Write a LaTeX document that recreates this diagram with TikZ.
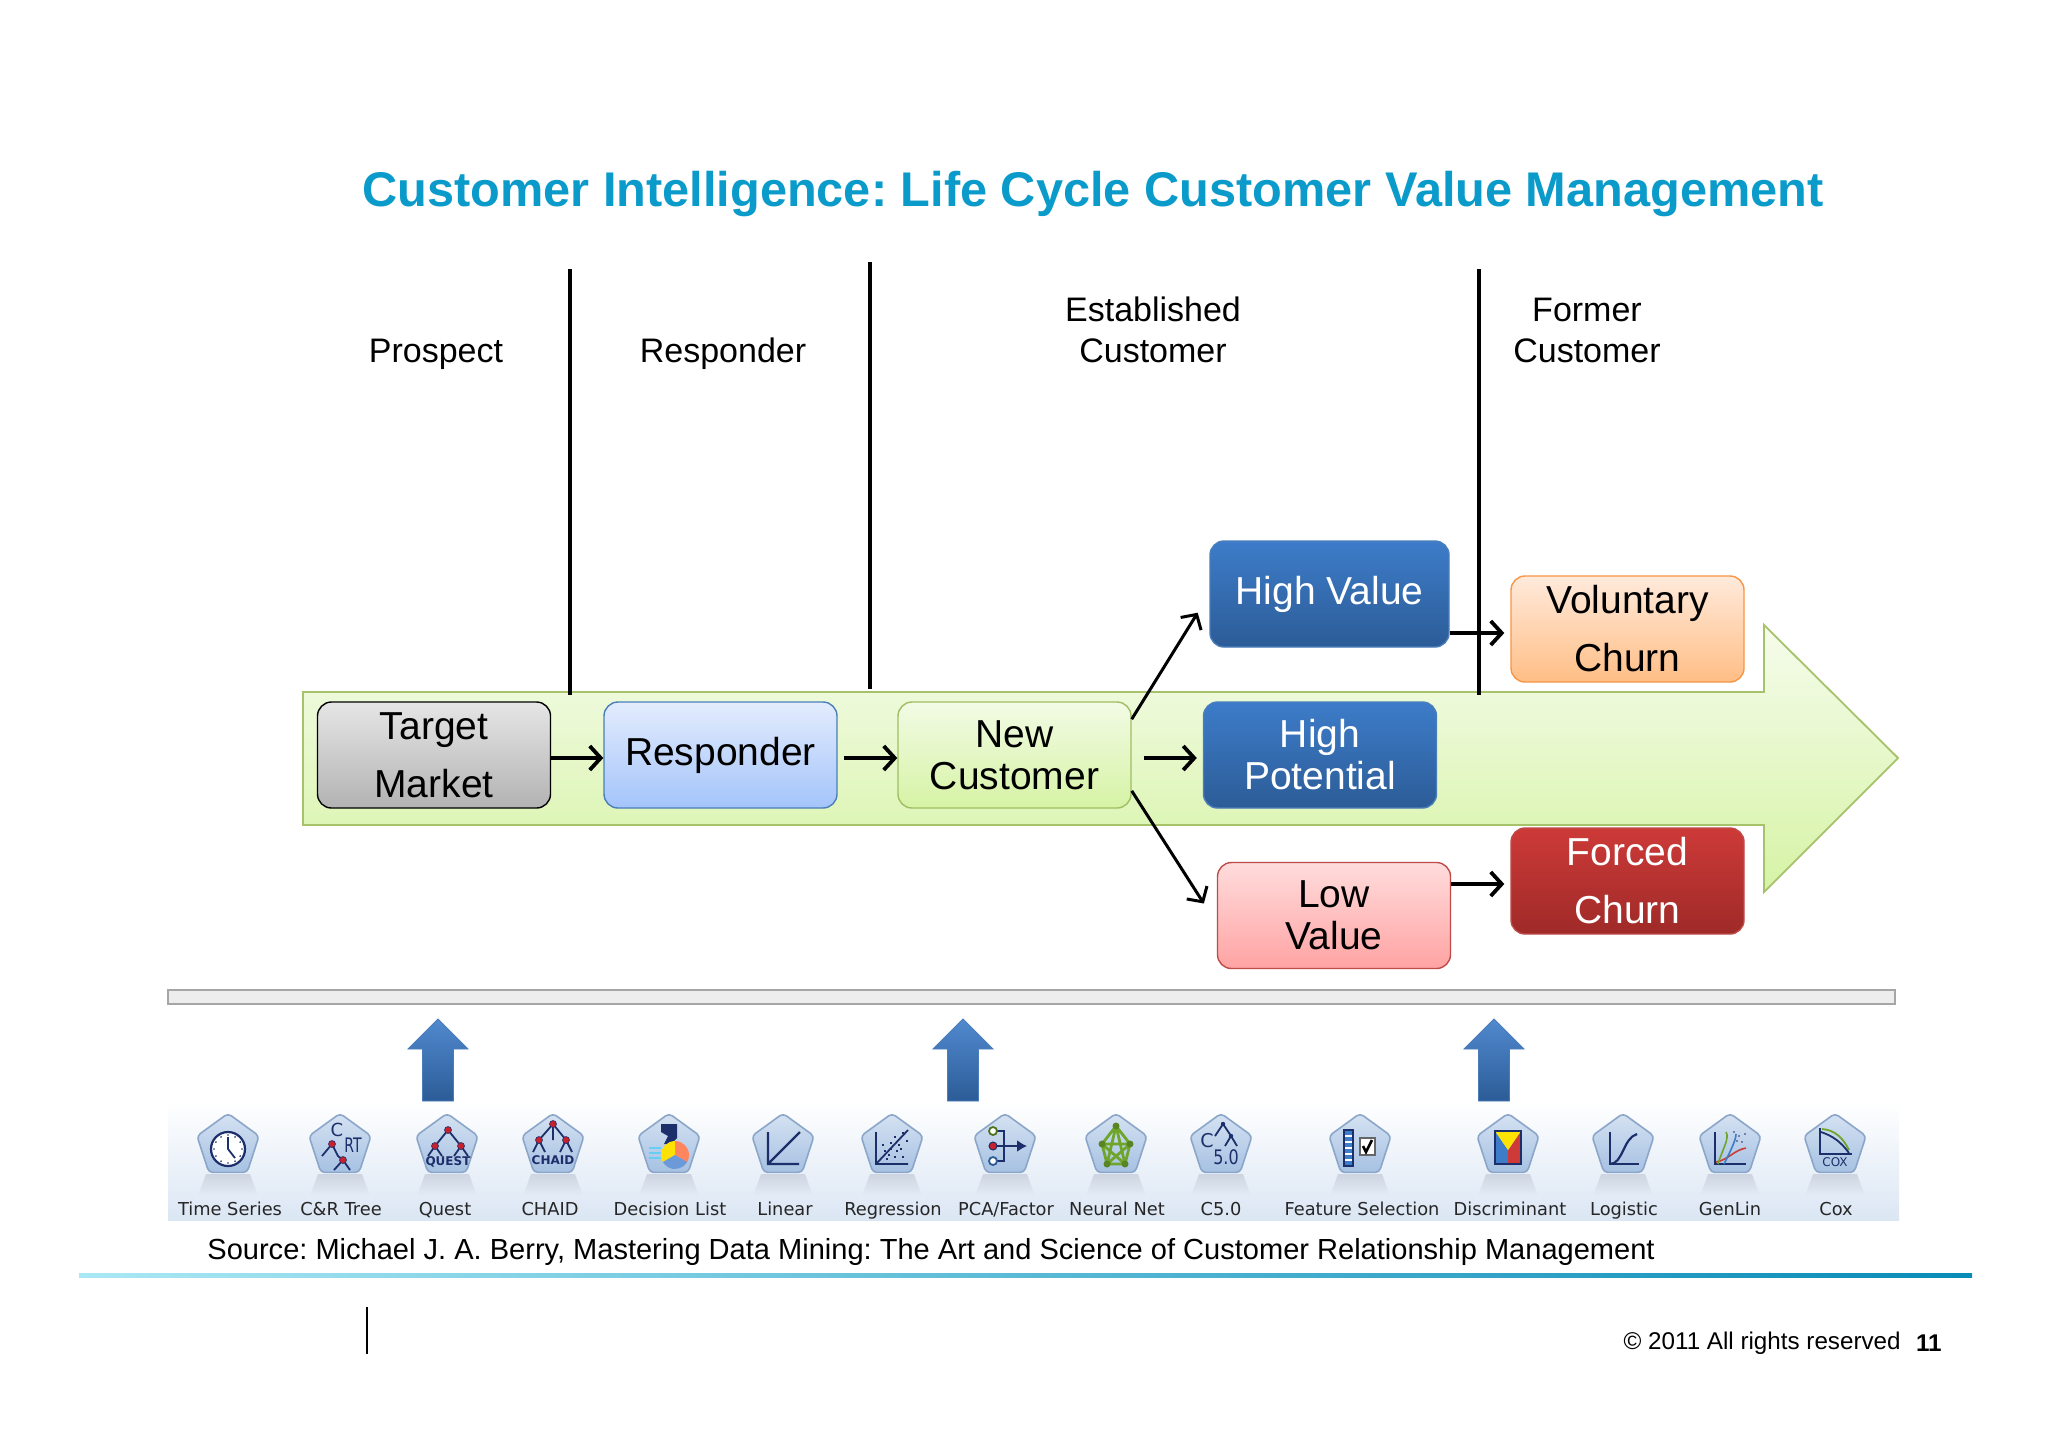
\documentclass[tikz,border=0pt]{standalone}
\usepackage{fontspec}
\setmainfont{Liberation Sans}
\newfontfamily\iconfont{DejaVu Sans}
\usetikzlibrary{arrows.meta,shapes.geometric}
\frenchspacing

\definecolor{titleblue}{HTML}{0A9BCB}
\definecolor{bandedge}{HTML}{A6C26A}
\definecolor{iconnavy}{HTML}{1C2F6B}
\definecolor{icondot}{HTML}{C8202C}
\definecolor{icongreen}{HTML}{6FA52A}

\tikzset{
  stagebox/.style={rectangle,rounded corners=7pt,line width=.7pt,inner sep=0pt,align=center,
    minimum width=116.5pt,minimum height=53pt,font=\fontsize{19.5}{21}\selectfont},
  graybox/.style={stagebox,draw=black,top color=white!90!black,bottom color=black!30},
  bluebox/.style={stagebox,draw=HTMLa,top color=HTMLb,bottom color=HTMLc},
  greenbox/.style={stagebox,draw=HTMLd,top color=HTMLe,bottom color=HTMLf},
  darkbox/.style={stagebox,draw=HTMLa,top color=HTMLg,bottom color=HTMLh,text=white},
  orangebox/.style={stagebox,draw=HTMLi,top color=HTMLj,bottom color=HTMLk},
  pinkbox/.style={stagebox,draw=HTMLl,top color=HTMLm,bottom color=HTMLn},
  redbox/.style={stagebox,draw=HTMLl,top color=HTMLo,bottom color=HTMLp,text=white},
  flowarrow/.style={-{Straight Barb[length=5.5pt,width=12pt]},line width=1.9pt},
  divider/.style={line width=1.7pt},
  phaselabel/.style={align=center,font=\fontsize{17}{20.5}\selectfont},
  minerpent/.style={regular polygon,regular polygon sides=5,minimum size=32.6pt,inner sep=0pt,
    rounded corners=2pt,draw=HTMLq,line width=.8pt,top color=HTMLr,bottom color=HTMLs},
  minerlabel/.style={font=\iconfont\fontsize{8.9}{10}\selectfont,text=black!85,inner sep=0pt,anchor=base},
  icontext/.style={font=\iconfont\fontsize{6}{6}\selectfont,text=iconnavy,inner sep=0pt},
  iconline/.style={draw=iconnavy,line width=.9pt},
  icondotted/.style={fill=icondot,draw=iconnavy,line width=.3pt},
}
\definecolor{HTMLa}{HTML}{4A7EBB}
\definecolor{HTMLb}{HTML}{E3ECFD}
\definecolor{HTMLc}{HTML}{A4C4FA}
\definecolor{HTMLd}{HTML}{A0BE62}
\definecolor{HTMLe}{HTML}{F2FBE5}
\definecolor{HTMLf}{HTML}{D6F3A5}
\definecolor{HTMLg}{HTML}{3D7CC9}
\definecolor{HTMLh}{HTML}{2C5C97}
\definecolor{HTMLi}{HTML}{F79646}
\definecolor{HTMLj}{HTML}{FFEADB}
\definecolor{HTMLk}{HTML}{FFBE86}
\definecolor{HTMLl}{HTML}{BE4B48}
\definecolor{HTMLm}{HTML}{FFDCDC}
\definecolor{HTMLn}{HTML}{FFA3A3}
\definecolor{HTMLo}{HTML}{CD3A38}
\definecolor{HTMLp}{HTML}{9E2A28}
\definecolor{HTMLq}{HTML}{8BA6C9}
\definecolor{HTMLr}{HTML}{D5E2F2}
\definecolor{HTMLs}{HTML}{A6C1E2}

\begin{document}
\begin{tikzpicture}[x=0.5pt,y=-0.5pt]
\useasboundingbox (0,0) rectangle (2048,1447);
\fill[white] (0,0) rectangle (2048,1447);

\node[font=\fontsize{24.35}{28}\selectfont\bfseries,text=titleblue] (title) at (1093,194)
  {Customer Intelligence: Life Cycle Customer Value Management};

\node[phaselabel] (prospect) at (436,354) {Prospect};
\node[phaselabel] (responderlab) at (723,354) {Responder};
\node[phaselabel] (established) at (1153,330) {Established\\Customer};
\node[phaselabel] (former) at (1587,330) {Former\\Customer};

% big arrow
\path[draw=bandedge,line width=.9pt,top color=HTMLe!70!white,bottom color=HTMLf]
  (303,692) -- (1764,692) -- (1764,625) -- (1898,758) -- (1764,892) -- (1764,825) -- (303,825) -- cycle;

\draw[divider] (570,269) -- (570,695);
\draw[divider] (870,262) -- (870,689);
\draw[divider] (1479,269) -- (1479,695);

\node[graybox,font=\fontsize{19.5}{29}\selectfont] (target) at (434,755) {Target\\Market};
\node[bluebox] (responder) at (720.5,755) {\raisebox{-2.5pt}{Responder}};
\node[greenbox] (newcust) at (1014.5,755) {New\\Customer};
\node[darkbox,minimum width=119.5pt] (highval) at (1329.5,594) {\raisebox{-2pt}{High Value}};
\node[darkbox] (highpot) at (1320,755) {High\\Potential};
\node[pinkbox] (lowval) at (1334,915.5) {Low\\Value};
\node[orangebox,font=\fontsize{19.5}{29}\selectfont] (voluntary) at (1627.5,629) {Voluntary\\Churn};
\node[redbox,font=\fontsize{19.5}{29}\selectfont] (forced) at (1627.5,881) {Forced\\Churn};

\draw[flowarrow] ([yshift=-1.5pt]target.east) -- ([yshift=-1.5pt]responder.west);
\draw[flowarrow,shorten <=3pt] ([yshift=-1.5pt]responder.east) -- ([yshift=-1.5pt]newcust.west);
\draw[flowarrow,shorten <=6pt,shorten >=3pt] ([yshift=-1.5pt]newcust.east) -- ([yshift=-1.5pt]highpot.west);
\draw[flowarrow,line width=1.5pt,shorten >=11pt] (newcust.17) -- (highval.west);
\draw[flowarrow,line width=1.5pt,shorten >=12pt] (newcust.-17) -- (lowval.184);
\draw[flowarrow,shorten >=3pt] (highval.east |- 0,633) -- (voluntary.west |- 0,633);
\draw[flowarrow,shorten >=3pt] (lowval.east |- 0,884) -- (forced.west |- 0,884);

% tool strip
\fill[top color=white,bottom color=HTMLr!85!white] (168,1100) rectangle (1899,1220);
\draw[black!35,fill=black!7,line width=.7pt] (168,990) rectangle (1895,1004);

\foreach \x in {438,963,1494}
  \path[draw=HTMLa,line width=.4pt,top color=HTMLg!90!white,bottom color=HTMLh]
    (\x,1019) -- (\x+30,1049) -- (\x+15.5,1049) -- (\x+15.5,1101)
    -- (\x-15.5,1101) -- (\x-15.5,1049) -- (\x-30,1049) -- cycle;

\foreach \n/\x/\lx/\lab in {tseries/228/230/Time Series,crtree/340/341/C\&R Tree,quest/447/445/Quest,
    chaid/553/550/CHAID,declist/669/670/Decision List,linear/783/785/Linear,regress/892/893/Regression,
    pcafac/1005/1006/{PCA/Factor},neural/1116/1117/Neural Net,cfive/1221/1221/C5.0,
    feature/1360/1362/Feature Selection,discrim/1508/1510/Discriminant,logistic/1623/1624/Logistic,
    genlin/1730/1730/GenLin,coxreg/1835/1836/Cox} {
  \shade[top color=HTMLr!85!black,bottom color=HTMLr!60!white,opacity=.55]
    (\x-22,1174) -- (\x+22,1174) -- (\x+30,1196) -- (\x-30,1196) -- cycle;
  \node[minerpent] (\n) at (\x,1146) {};
  \node[minerlabel] (\n lab) at (\lx,1215) {\lab};
}

% Time Series
\begin{scope}[shift={(tseries.center)}]
  \draw[iconline,fill=white,line width=1.1pt] (0,3) circle (17);
  \draw[iconline] (0,3) -- (0,-9) (0,3) -- (7,12);
  \foreach \a in {0,30,...,330} \fill[iconnavy] (\a:0) ++(\a:14) ++(0,3) circle (.9);
\end{scope}
% C&R Tree
\begin{scope}[shift={(crtree.center)}]
  \draw[iconline] (-8,-2) -- (-18,10) (-8,-2) -- (-2,10) (3,14) -- (-6,24) (3,14) -- (10,24) (-2,10) -- (3,14);
  \fill[icondotted] (-8,-2) circle (3.5) (3,14) circle (3.5);
  \node[icontext,font=\iconfont\fontsize{9}{9}\selectfont] (crc) at (-3,-16) {C};
  \node[icontext,font=\iconfont\fontsize{10}{10}\selectfont,xscale=.7] (crrt) at (13,-1) {RT};
\end{scope}
% Quest
\begin{scope}[shift={(quest.center)}]
  \draw[iconline] (1,-16) -- (-12,0) -- (-19,10) (-12,0) -- (-5,10) (1,-16) -- (14,0) -- (7,10) (14,0) -- (21,10);
  \fill[icondotted] (1,-16) circle (3.5) (-12,0) circle (3.5) (14,0) circle (3.5);
  \node[icontext,font=\iconfont\bfseries\fontsize{6}{6}\selectfont] (questtxt) at (1,16) {QUEST};
\end{scope}
% CHAID
\begin{scope}[shift={(chaid.center)}]
  \draw[iconline] (0,-22) -- (-14,-6) (0,-22) -- (0,-6) (0,-22) -- (13,-6)
    (-14,-6) -- (-20,6) (-14,-6) -- (-8,6) (13,-6) -- (7,6) (13,-6) -- (19,6);
  \fill[icondotted] (0,-22) circle (3.5) (-14,-6) circle (3.5) (13,-6) circle (3.5);
  \node[icontext,font=\iconfont\bfseries\fontsize{6}{6}\selectfont] (chaidtxt) at (0,14) {CHAID};
\end{scope}
% Decision List
\begin{scope}[shift={(declist.center)}]
  \fill[iconnavy] (-8,-22) -- (8,-22) -- (8,-8) -- (2,-2) -- (-5,-2) -- (-1,-10) -- (-8,-14) -- cycle;
  \fill[HTMLk!70!red] (6,9) -- (6,-5) arc (-90:30:14) -- cycle;
  \fill[yellow!85!orange] (6,9) -- (6,-5) arc (270:150:14) -- cycle;
  \fill[cyan!50!blue!60] (6,9) -- (18.1,16) arc (30:150:14) -- cycle;
  \draw[cyan!60,line width=.7pt] (-20,2) -- (-8,2) (-20,7) -- (-8,7) (-20,12) -- (-8,12);
\end{scope}
% Linear
\begin{scope}[shift={(linear.center)}]
  \draw[iconline,line width=1.1pt] (-15,-14) -- (-15,18) -- (16,18) (-15,18) -- (17,-14);
\end{scope}
% Regression
\begin{scope}[shift={(regress.center)}]
  \draw[iconline] (-16,-14) -- (-16,18) -- (16,18) (-16,18) -- (16,-16);
  \foreach \px/\py in {-8/4,-4/8,-10/-2,-2/-4,2/-10,6/-2,8/2,10/-14,14/-6,2/10,-6/12,10/10,4/4,-2/2}
    \fill[iconnavy] (\px,\py) rectangle ++(2,2);
\end{scope}
% PCA/Factor
\begin{scope}[shift={(pcafac.center)}]
  \draw[iconline] (-11,-15) -| (-1,15) -- (-11,15) (-11,0) -- (20,0);
  \draw[iconline,-{Latex[length=5pt,width=6pt]}] (5,0) -- (22,0);
  \draw[fill=white,draw=icongreen!70!black,line width=.9pt] (-12,-15) circle (4);
  \draw[fill=icondot,draw=iconnavy,line width=.5pt] (-12,0) circle (4);
  \draw[fill=white,draw=HTMLh,line width=.9pt] (-12,15) circle (4);
\end{scope}
% Neural Net
\begin{scope}[shift={(neural.center)}]
  \draw[icongreen,line width=1.4pt] (0,-20) -- (-14,-2) -- (-9,18) -- (9,18) -- (14,-2) -- cycle
    (0,-20) -- (-9,18) (0,-20) -- (9,18) (-14,-2) -- (14,-2) (-14,-2) -- (9,18) (14,-2) -- (-9,18);
  \foreach \px/\py in {0/-20,-14/-2,-9/18,9/18,14/-2} \fill[icongreen!80!black] (\px,\py) circle (3.5);
\end{scope}
% C5.0
\begin{scope}[shift={(cfive.center)}]
  \draw[iconline] (2,-22) -- (-6,-10) (2,-22) -- (10,-10) -- (4,0) (10,-10) -- (16,0);
  \fill[iconnavy] (2,-22) circle (2.2) (10,-10) circle (2.2);
  \node[icontext,font=\iconfont\fontsize{9.5}{9.5}\selectfont] (cfivec) at (-14,-5) {C};
  \node[icontext,font=\iconfont\fontsize{10}{10}\selectfont,xscale=.8] (cfivenum) at (5,11) {5.0};
\end{scope}
% Feature Selection
\begin{scope}[shift={(feature.center)}]
  \draw[iconline,fill=HTMLg] (-16,-16) rectangle (-7,20);
  \foreach \py in {-10,-4,2,8,14} \draw[white,line width=.6pt] (-15,\py) -- (-8,\py);
  \draw[black!60,fill=white,line width=.6pt] (0,-8) rectangle (15,9);
  \draw[black,line width=1.3pt] (3,0) -- (6,6) -- (12,-6);
\end{scope}
% Discriminant
\begin{scope}[shift={(discrim.center)}]
  \fill[HTMLg] (-13,-15) -- (0,4) -- (0,18) -- (-13,18) -- cycle;
  \fill[HTMLo] (13,-15) -- (0,4) -- (0,18) -- (13,18) -- cycle;
  \fill[yellow!85!orange] (-13,-15) -- (13,-15) -- (0,4) -- cycle;
  \draw[iconline,line width=1.1pt] (-13,-15) rectangle (13,18);
\end{scope}
% Logistic
\begin{scope}[shift={(logistic.center)}]
  \draw[iconline,line width=1.1pt] (-13,-14) -- (-13,18) -- (16,18);
  \draw[iconline,line width=1.1pt] (-13,18) .. controls (0,18) and (0,-8) .. (14,-12);
\end{scope}
% GenLin
\begin{scope}[shift={(genlin.center)}]
  \draw[iconline] (-15,-14) -- (-15,18) -- (16,18);
  \draw[HTMLo,line width=.8pt] (-14,16) .. controls (-2,14) and (4,4) .. (16,2);
  \draw[icongreen,line width=.8pt] (-12,18) .. controls (-8,4) and (0,-8) .. (-4,-14);
  \draw[HTMLg,line width=.8pt] (-6,18) .. controls (0,6) and (6,-6) .. (6,-12);
  \foreach \px/\py in {4/-14,9/-10,12/-4,15/-12,7/-5} \fill[iconnavy] (\px,\py) circle (.9);
\end{scope}
% Cox
\begin{scope}[shift={(coxreg.center)}]
  \draw[iconline] (-15,-18) -- (-15,8) -- (17,8);
  \draw[icongreen,line width=.9pt] (-13,-17) .. controls (0,-16) and (8,-8) .. (14,4);
  \draw[iconline] (-14,-14) .. controls (-2,-10) and (6,-4) .. (14,7);
  \node[icontext] (coxtxt) at (0,16) {COX};
\end{scope}

\node[anchor=west,inner sep=0pt,font=\fontsize{14.52}{18}\selectfont] (source) at (207,1252)
  {Source: Michael J. A. Berry, Mastering Data Mining: The Art and Science of Customer Relationship Management};
\shade[left color=HTMLr!80!cyan,right color=titleblue!90!black] (79,1273) rectangle (1972,1277);
\draw[line width=.7pt] (367,1307) -- (367,1354);
\node[anchor=east,inner sep=0pt,font=\fontsize{12.1}{14}\selectfont] (rights) at (1901,1343)
  {\textcopyright{} 2011 All rights reserved};
\node[anchor=east,inner sep=0pt,font=\fontsize{12.1}{14}\selectfont\bfseries] (pageno) at (1942,1343) {11};
\end{tikzpicture}
\end{document}
